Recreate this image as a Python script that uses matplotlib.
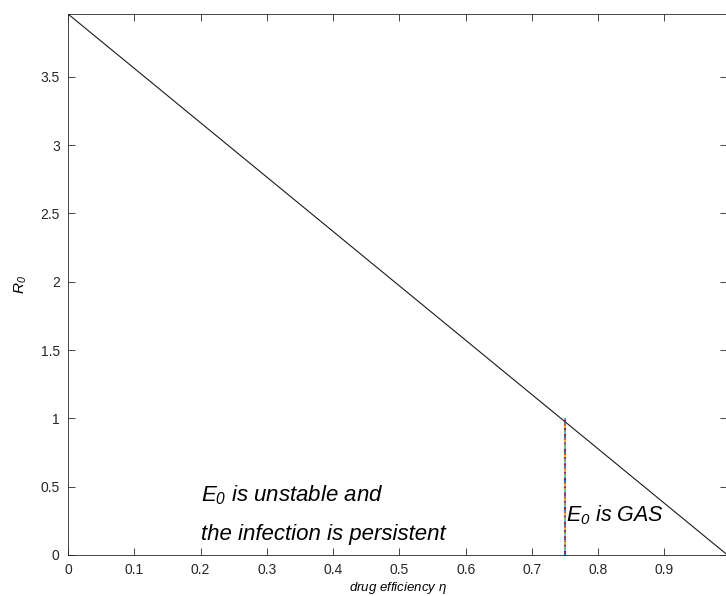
import matplotlib
matplotlib.use('Agg')
import matplotlib.pyplot as plt

# R0 as function of drug efficiency (straight line)
eta = [0.0, 0.995]
R0 = [3.96, 0.0]

# threshold eta where R0 = 1
eta_c = [0.75, 0.75]
R0_c = [0.0, 1.0]

xticks = [0, 0.1, 0.2, 0.3, 0.4, 0.5, 0.6, 0.7, 0.8, 0.9]
xticklabels = ['0', '0.1', '0.2', '0.3', '0.4', '0.5', '0.6', '0.7', '0.8', '0.9']
yticks = [0, 0.5, 1, 1.5, 2, 2.5, 3, 3.5]
yticklabels = ['0', '0.5', '1', '1.5', '2', '2.5', '3', '3.5']

matlab_colors = ['#0072BD', '#D95319', '#EDB120', '#7E2F8E', '#77AC30', '#4DBEEE', '#A2142F']

plt.rcParams['font.family'] = ['Liberation Sans', 'DejaVu Sans']
plt.rcParams['mathtext.fontset'] = 'custom'
plt.rcParams['mathtext.it'] = 'Liberation Sans:italic'
plt.rcParams['mathtext.rm'] = 'Liberation Sans:italic'

fig = plt.figure(figsize=(7.26, 5.96), dpi=100)
ax = fig.add_axes([0.0937, 0.0688, 0.9083, 0.9077])

ax.plot(eta, R0, color='#1a1a1a', linewidth=0.8)

# multicoloured vertical line (many coloured points in the original)
n = len(matlab_colors)
for k, c in enumerate(matlab_colors):
    ax.plot(eta_c, R0_c, color=c, linewidth=1.5,
            linestyle=(k, (1, n - 1)), dash_capstyle='butt')

ax.set_xlim(0, 0.995)
ax.set_ylim(0, 3.96)
ax.set_xticks(xticks)
ax.set_xticklabels(xticklabels)
ax.set_yticks(yticks)
ax.set_yticklabels(yticklabels)
ax.tick_params(direction='in', top=True, right=True, length=5, width=0.6,
               colors='#262626', labelsize=10, pad=6)
for s in ax.spines.values():
    s.set_color('#262626')
    s.set_linewidth(0.6)

ax.set_xlabel(r'drug efficiency $\eta$', fontsize=9.5, style='italic', labelpad=2)
ax.set_ylabel(r'$R_{\mathit{0}}$', fontsize=11, labelpad=8)

ax.text(0.2, 0.44, r'$E_{\mathit{0}}$ is unstable and', fontsize=16,
        style='italic', va='center', ha='left')
ax.text(0.2, 0.15, 'the infection is persistent', fontsize=16,
        style='italic', va='center', ha='left')
ax.text(0.752, 0.29, r'$E_{\mathit{0}}$ is GAS', fontsize=15.5, style='italic',
        va='center', ha='left')

fig.savefig('out.png', dpi=100)
